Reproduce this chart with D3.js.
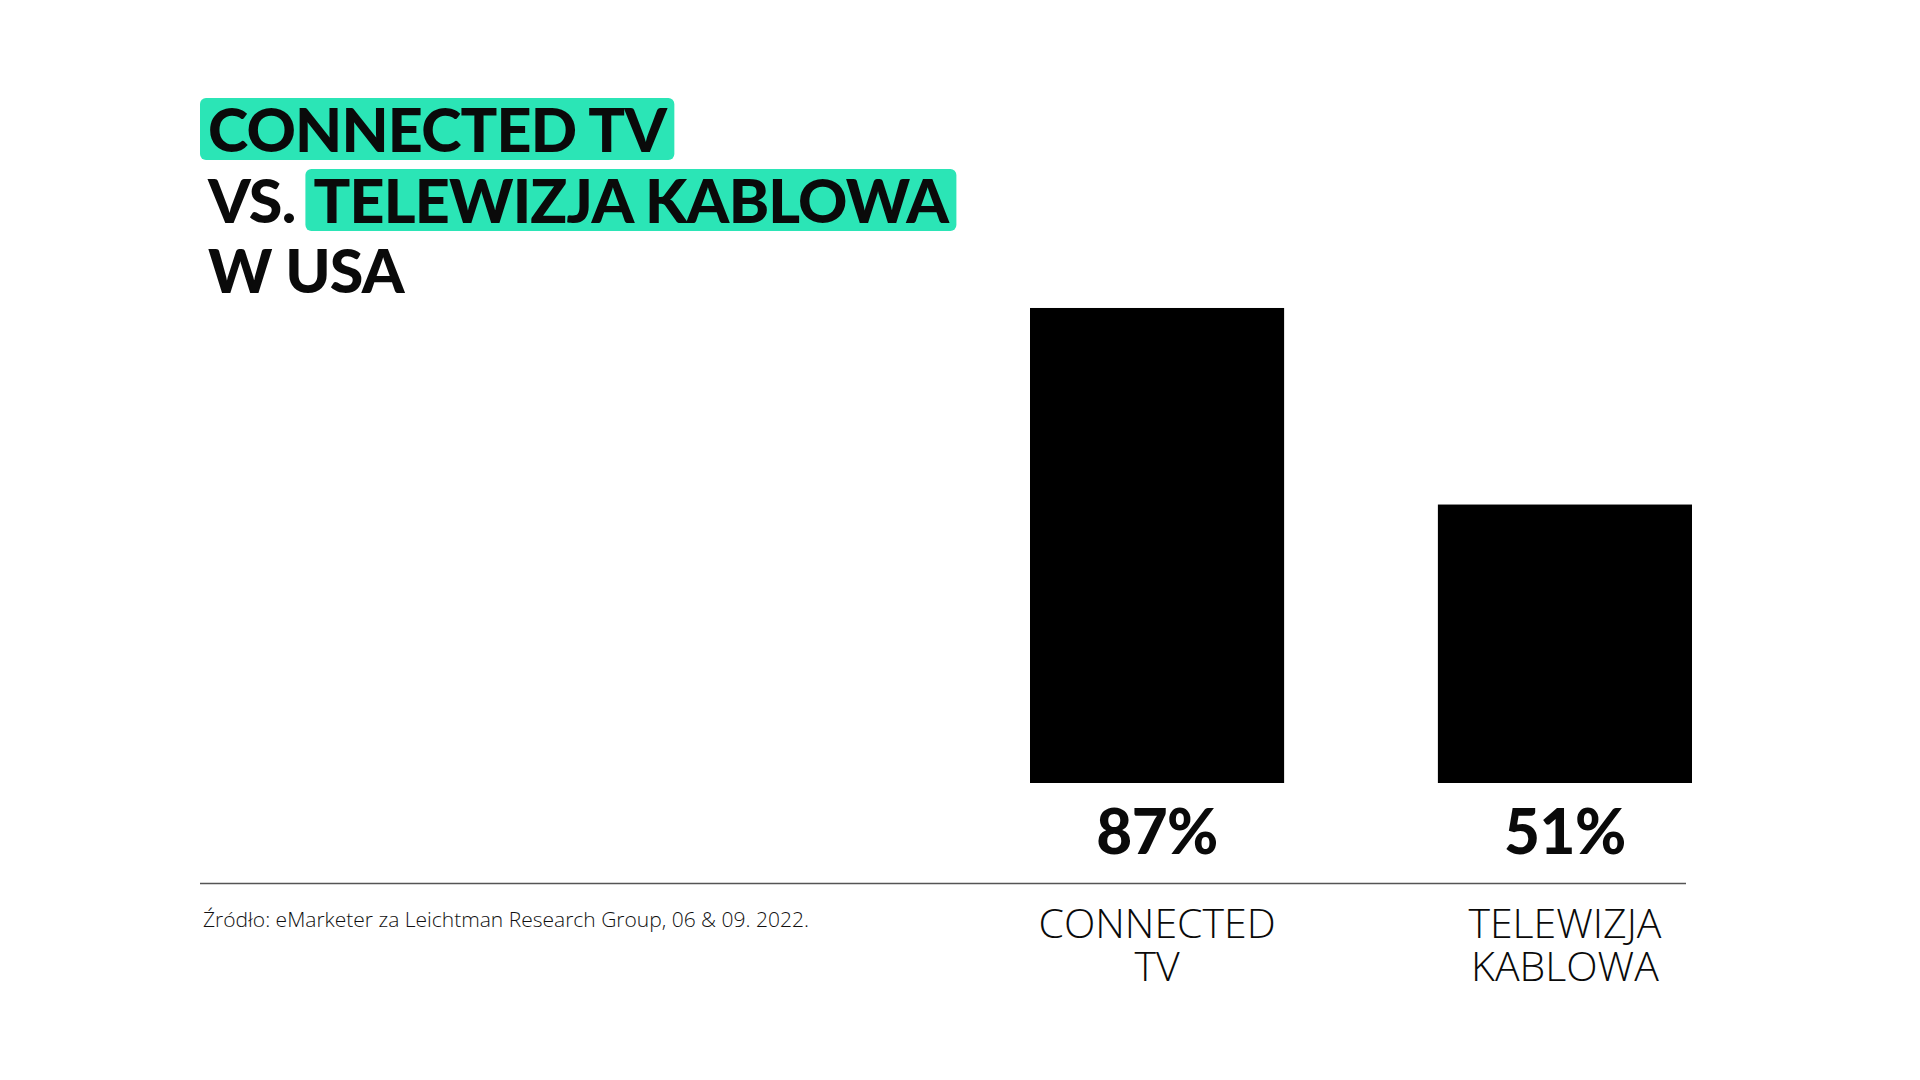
<!DOCTYPE html>
<html>
<head>
<meta charset="utf-8">
<script src="https://cdn.jsdelivr.net/npm/d3@7"></script>
<style>
  html, body { margin: 0; padding: 0; background: #ffffff; }
  svg { display: block; }
</style>
</head>
<body>
<svg id="chart" width="1920" height="1080"></svg>
<script>
// ---- data ----
const categories = ["CONNECTED TV", "TELEWIZJA KABLOWA"];
const categoryLines = [["CONNECTED", "TV"], ["TELEWIZJA", "KABLOWA"]];
const values = [87, 51];
const valueLabels = ["87%", "51%"];
const titleLines = [
  [{ t: "CONNECTED TV", hl: true }],
  [{ t: "VS.", hl: false }, { t: "TELEWIZJA KABLOWA", hl: true }],
  [{ t: "W USA", hl: false }]
];
const sourceText = "Źródło: eMarketer za Leichtman Research Group, 06 & 09. 2022.";

// ---- styles ----
const HL = "#2be5b6";
const boldFont = "Lato, 'Open Sans', sans-serif";
const lightFont = "'Open Sans', 'Noto Sans', sans-serif";

const svg = d3.select("#chart");

// ---- scales ----
const x = d3.scaleBand().domain(categories).range([1030, 1692]).paddingInner(0.377).paddingOuter(0);
const y = d3.scaleLinear().domain([0, 100]).range([783, 237]);

// ---- title ----
const titleX = 208;
const baselines = [152, 223, 293];
const titleSize = 61;
const tg = svg.append("g");
titleLines.forEach((segs, i) => {
  let cx = titleX;
  segs.forEach((s, j) => {
    if (j > 0) cx += 18;
    const g = tg.append("g");
    const rect = g.append("rect").attr("fill", s.hl ? HL : "none").attr("rx", 6).attr("ry", 6);
    const txt = g.append("text")
      .attr("x", cx).attr("y", baselines[i])
      .attr("font-family", boldFont).attr("font-weight", 900)
      .attr("font-size", titleSize).attr("letter-spacing", -0.8).attr("fill", "#0a0a0a")
      .text(s.t);
    const len = txt.node().getComputedTextLength();
    rect.attr("x", cx - 8).attr("width", len + 16)
        .attr("y", baselines[i] - 54).attr("height", 62);
    cx += len;
  });
});

// ---- bars ----
svg.append("g").selectAll("rect").data(categories).join("rect")
  .attr("x", d => x(d))
  .attr("width", x.bandwidth())
  .attr("y", (d, i) => y(values[i]))
  .attr("height", (d, i) => y(0) - y(values[i]))
  .attr("fill", "#000");

// ---- value labels ----
svg.append("g").selectAll("text").data(categories).join("text")
  .attr("x", d => x(d) + x.bandwidth() / 2)
  .attr("y", 854)
  .attr("text-anchor", "middle")
  .attr("font-family", boldFont).attr("font-weight", 900)
  .attr("font-size", 62).attr("letter-spacing", -0.5).attr("fill", "#0a0a0a")
  .text((d, i) => valueLabels[i]);

// ---- baseline rule ----
svg.append("line")
  .attr("x1", 200).attr("x2", 1686)
  .attr("y1", 883.5).attr("y2", 883.5)
  .attr("stroke", "#555").attr("stroke-width", 1.5);

// ---- category labels ----
const cg = svg.append("g");
categories.forEach((c, i) => {
  const t = cg.append("text")
    .attr("text-anchor", "middle")
    .attr("font-family", lightFont).attr("font-weight", 300)
    .attr("font-size", 41).attr("fill", "#0a0a0a");
  categoryLines[i].forEach((ln, k) => {
    t.append("tspan").attr("x", x(c) + x.bandwidth() / 2).attr("y", 938 + k * 43).text(ln);
  });
});

// ---- source ----
svg.append("text")
  .attr("x", 203).attr("y", 927)
  .attr("font-family", lightFont).attr("font-weight", 300)
  .attr("font-size", 21).attr("fill", "#111")
  .text(sourceText);
</script>
</body>
</html>
